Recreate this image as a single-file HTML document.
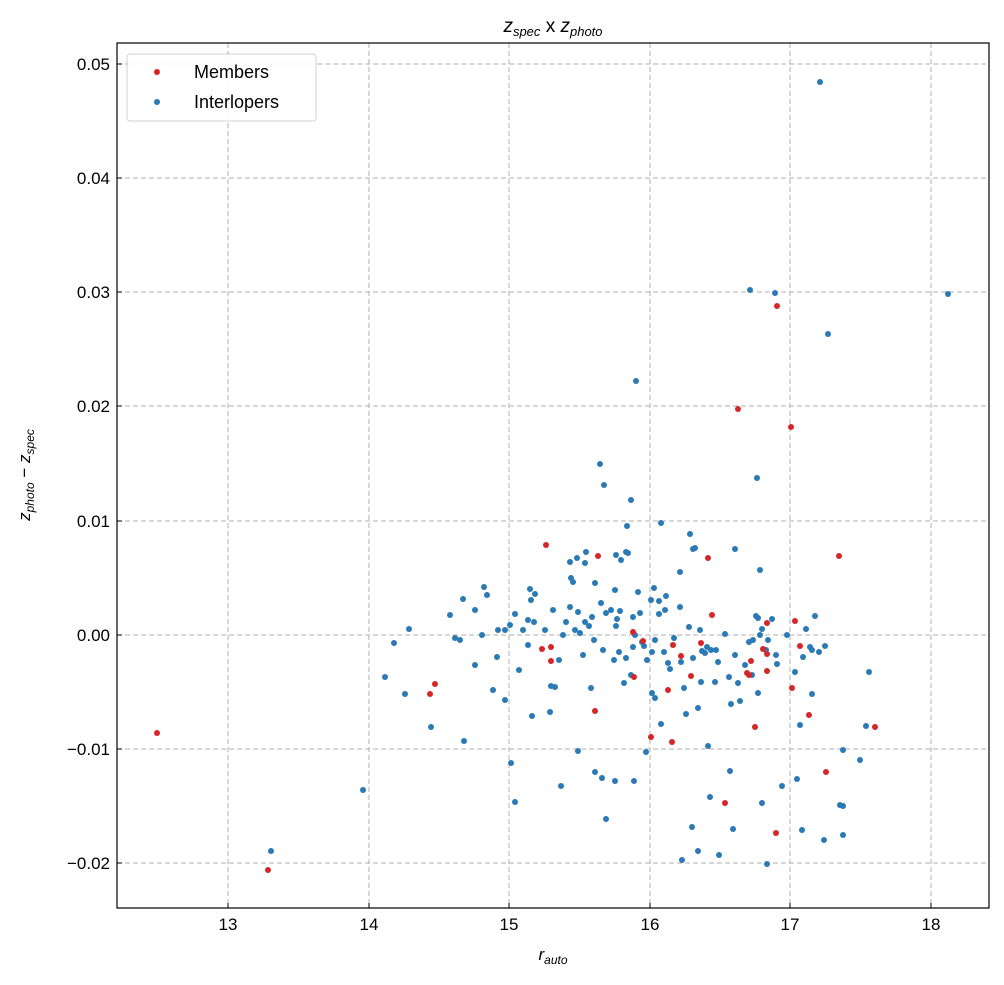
<!DOCTYPE html>
<html><head><meta charset="utf-8"><style>
body{margin:0;background:#fff;}
svg text{font-family:"Liberation Sans","DejaVu Sans",sans-serif;}
</style></head><body>
<svg width="1004" height="980" xmlns="http://www.w3.org/2000/svg">
<rect width="1004" height="980" fill="#fff"/>
<g stroke="#b0b0b0" stroke-dasharray="5,3" stroke-width="1">
<line x1="228" y1="43" x2="228" y2="908"/><line x1="369" y1="43" x2="369" y2="908"/><line x1="509" y1="43" x2="509" y2="908"/><line x1="650" y1="43" x2="650" y2="908"/><line x1="790" y1="43" x2="790" y2="908"/><line x1="931" y1="43" x2="931" y2="908"/>
<line x1="117" y1="64" x2="989" y2="64"/><line x1="117" y1="178" x2="989" y2="178"/><line x1="117" y1="292" x2="989" y2="292"/><line x1="117" y1="406" x2="989" y2="406"/><line x1="117" y1="521" x2="989" y2="521"/><line x1="117" y1="635" x2="989" y2="635"/><line x1="117" y1="749" x2="989" y2="749"/><line x1="117" y1="863" x2="989" y2="863"/>
</g>
<g fill="#1f77b4" opacity="0.9">
<script type="text/javascript"><![CDATA[]]></script>
</g>
<g id="blue" fill="#2a7ab5"></g>
<g id="red" fill="#d62728"></g>
<rect x="117" y="43" width="872" height="865" fill="none" stroke="#000" stroke-width="1.2"/>
<g stroke="#000" stroke-width="1">
<line x1="228" y1="908" x2="228" y2="903"/><line x1="369" y1="908" x2="369" y2="903"/><line x1="509" y1="908" x2="509" y2="903"/><line x1="650" y1="908" x2="650" y2="903"/><line x1="790" y1="908" x2="790" y2="903"/><line x1="931" y1="908" x2="931" y2="903"/>
<line x1="117" y1="64" x2="122" y2="64"/><line x1="117" y1="178" x2="122" y2="178"/><line x1="117" y1="292" x2="122" y2="292"/><line x1="117" y1="406" x2="122" y2="406"/><line x1="117" y1="521" x2="122" y2="521"/><line x1="117" y1="635" x2="122" y2="635"/><line x1="117" y1="749" x2="122" y2="749"/><line x1="117" y1="863" x2="122" y2="863"/>
</g>
<g font-size="17" text-anchor="middle">
<text x="228" y="930">13</text><text x="369" y="930">14</text><text x="509" y="930">15</text><text x="650" y="930">16</text><text x="790" y="930">17</text><text x="931" y="930">18</text>
</g>
<g font-size="17" text-anchor="end">
<text x="110" y="70">0.05</text><text x="110" y="184">0.04</text><text x="110" y="298">0.03</text><text x="110" y="412">0.02</text><text x="110" y="527">0.01</text><text x="110" y="641">0.00</text><text x="110" y="755">−0.01</text><text x="110" y="869">−0.02</text>
</g>
<text x="553" y="32" font-size="19" text-anchor="middle"><tspan font-style="italic">z</tspan><tspan font-size="13" dy="4" font-style="italic">spec</tspan><tspan dy="-4"> x </tspan><tspan font-style="italic">z</tspan><tspan font-size="13" dy="4" font-style="italic">photo</tspan></text>
<text x="553" y="960" font-size="17" text-anchor="middle"><tspan font-style="italic">r</tspan><tspan font-size="12" dy="4" font-style="italic">auto</tspan></text>
<text transform="translate(30,475) rotate(-90)" font-size="17" text-anchor="middle"><tspan font-style="italic">z</tspan><tspan font-size="12" dy="4" font-style="italic">photo</tspan><tspan dy="-4"> − </tspan><tspan font-style="italic">z</tspan><tspan font-size="12" dy="4" font-style="italic">spec</tspan></text>
<rect x="127" y="54" width="189" height="67" rx="3" fill="#fff" stroke="#ccc" opacity="0.9"/>
<circle cx="157" cy="72" r="3" fill="#d62728"/><circle cx="157" cy="102" r="3" fill="#2a7ab5"/>
<text x="194" y="78" font-size="18">Members</text><text x="194" y="108" font-size="18">Interlopers</text>
<script>
var b=[[820,82],[750,290],[775,293],[948,294],[828,334],[636,381],[757,478],[600,464],[604,485],[631,500],[735,549],[661,523],[690,534],[693,549],[627,526],[626,552],[363,790],[271,851],[385,677],[394,643],[405,694],[409,629],[431,727],[464,741],[511,763],[515,802],[561,786],[578,751],[606,819],[595,772],[602,778],[615,781],[634,781],[646,752],[682,860],[692,827],[698,851],[719,855],[710,797],[708,746],[730,771],[733,829],[762,803],[767,864],[797,779],[824,840],[843,835],[843,806],[866,726],[869,672],[802,830],[782,786],[840,805],[450,615],[455,638],[460,640],[463,599],[475,610],[484,587],[487,595],[475,665],[482,635],[493,690],[498,630],[497,657],[505,700],[505,630],[510,625],[515,614],[519,670],[523,630],[528,620],[528,645],[530,589],[531,600],[532,716],[534,622],[535,594],[545,630],[550,712],[551,686],[553,610],[555,687],[559,660],[563,635],[566,622],[570,607],[571,578],[573,582],[575,630],[578,612],[580,633],[583,655],[585,622],[586,552],[589,626],[591,688],[592,617],[594,640],[595,583],[601,603],[603,650],[606,613],[611,610],[614,660],[615,590],[616,626],[619,652],[620,611],[624,683],[626,658],[628,553],[631,675],[633,647],[633,617],[635,635],[638,592],[640,613],[642,642],[644,646],[647,660],[652,652],[655,640],[655,698],[652,693],[659,614],[661,724],[664,652],[665,610],[668,663],[670,669],[674,638],[680,607],[681,662],[684,688],[686,714],[689,627],[693,658],[695,548],[698,708],[701,682],[702,651],[705,653],[707,647],[711,650],[715,682],[716,650],[718,662],[725,634],[729,677],[731,704],[735,655],[738,683],[740,701],[745,665],[749,642],[752,675],[753,640],[756,616],[758,618],[758,693],[760,635],[762,629],[766,650],[768,640],[772,619],[776,655],[777,664],[787,635],[795,672],[800,725],[803,657],[806,629],[810,647],[812,650],[815,616],[819,652],[825,646],[812,694],[860,760],[843,750],[760,570],[680,572],[651,600],[666,596],[700,630],[616,555],[621,560],[617,619],[570,562],[577,558],[585,563],[654,588],[659,601]];
var r=[[157,733],[268,870],[430,694],[435,684],[546,545],[551,647],[542,649],[551,661],[598,556],[595,711],[633,632],[643,641],[634,677],[651,737],[672,742],[673,645],[681,656],[668,690],[701,643],[708,558],[712,615],[738,409],[725,803],[747,673],[749,675],[751,661],[755,727],[767,671],[767,654],[763,649],[777,306],[791,427],[792,688],[767,623],[776,833],[800,646],[809,715],[826,772],[839,556],[875,727],[795,621],[691,676]];
var ns="http://www.w3.org/2000/svg";
function add(id,a){var g=document.getElementById(id);a.forEach(function(p){var c=document.createElementNS(ns,"circle");c.setAttribute("cx",p[0]);c.setAttribute("cy",p[1]);c.setAttribute("r",3);g.appendChild(c);});}
add("blue",b);add("red",r);
</script>
</svg>
</body></html>
